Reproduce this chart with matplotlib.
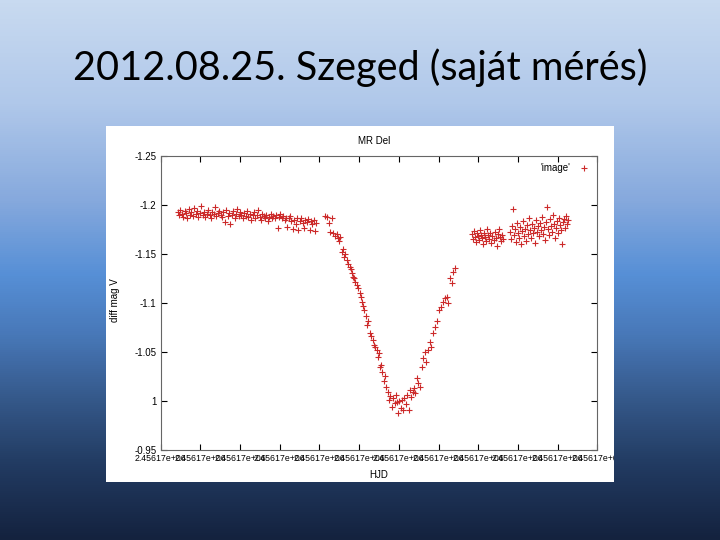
""" MR Del light curve, Szeged 2012.08.25 (slide recreation) """

import numpy as np
import matplotlib
matplotlib.use('Agg')
import matplotlib.pyplot as plt
import matplotlib.colors as clr
from matplotlib.patches import Rectangle


# -------------------------------------------------------------------------------
# 0. DATA
# -------------------------------------------------------------------------------

HJD0 = 2456165.0

# out of eclipse, before minimum
hjd_pre = [0.2685, 0.2692, 0.2699, 0.2706, 0.2713, 0.2720, 0.2727, 0.2734, 0.2741, 0.2748,
           0.2755, 0.2762, 0.2769, 0.2776, 0.2783, 0.2790, 0.2797, 0.2804, 0.2811, 0.2818,
           0.2825, 0.2832, 0.2839, 0.2846, 0.2853, 0.2860, 0.2867, 0.2874, 0.2881, 0.2888,
           0.2895, 0.2902, 0.2909, 0.2916, 0.2923, 0.2930, 0.2937, 0.2944, 0.2951, 0.2958,
           0.2965, 0.2972, 0.2979, 0.2986, 0.2993, 0.3000, 0.3007, 0.3014, 0.3021, 0.3028,
           0.3035, 0.3042, 0.3049, 0.3056, 0.3063, 0.3070, 0.3077, 0.3084, 0.3091, 0.3098,
           0.3105, 0.3112, 0.3119, 0.3126, 0.3133, 0.3140, 0.3147, 0.3154, 0.3161, 0.3168,
           0.3175, 0.3182, 0.3189, 0.3196, 0.3203, 0.3210, 0.3217, 0.3224, 0.3231, 0.3238,
           0.3245, 0.3252, 0.3259, 0.3266, 0.3273, 0.3280, 0.3287, 0.3294, 0.3301, 0.3308,
           0.3315, 0.3322, 0.3329, 0.3336, 0.3343, 0.3350, 0.3357, 0.3364, 0.3371, 0.3378,
           0.3385]
mag_pre = [-1.193, -1.190, -1.195, -1.191, -1.188, -1.194, -1.192, -1.187, -1.196, -1.190,
           -1.193, -1.189, -1.197, -1.191, -1.194, -1.188, -1.192, -1.199, -1.190, -1.193,
           -1.188, -1.191, -1.195, -1.190, -1.186, -1.193, -1.191, -1.198, -1.189, -1.192,
           -1.194, -1.190, -1.188, -1.193, -1.182, -1.195, -1.189, -1.192, -1.180, -1.190,
           -1.194, -1.187, -1.191, -1.196, -1.189, -1.193, -1.190, -1.186, -1.192, -1.189,
           -1.194, -1.188, -1.191, -1.184, -1.190, -1.193, -1.187, -1.190, -1.195, -1.188,
           -1.184, -1.191, -1.189, -1.186, -1.190, -1.183, -1.188, -1.191, -1.186, -1.189,
           -1.187, -1.190, -1.176, -1.188, -1.191, -1.186, -1.189, -1.184, -1.187, -1.177,
           -1.186, -1.189, -1.183, -1.175, -1.184, -1.180, -1.186, -1.174, -1.183, -1.186,
           -1.181, -1.176, -1.184, -1.182, -1.185, -1.174, -1.183, -1.180, -1.184, -1.173,
           -1.181]

# eclipse: descending branch, minimum, ascending branch
hjd_ecl = [0.3428, 0.3438, 0.3448, 0.3453, 0.3463, 0.3468, 0.3478, 0.3489, 0.3494, 0.3499,
           0.3504, 0.3514, 0.3519, 0.3524, 0.3529, 0.3539, 0.3544, 0.3554, 0.3559, 0.3564,
           0.3569, 0.3574, 0.3579, 0.3589, 0.3594, 0.3604, 0.3609, 0.3614, 0.3619, 0.3624,
           0.3634, 0.3640, 0.3645, 0.3655, 0.3660, 0.3670, 0.3675, 0.3680, 0.3690, 0.3695,
           0.3700, 0.3705, 0.3710, 0.3715, 0.3725, 0.3730, 0.3735, 0.3745, 0.3750, 0.3756,
           0.3766, 0.3771, 0.3781, 0.3786, 0.3791, 0.3796, 0.3801, 0.3811, 0.3816, 0.3821,
           0.3826, 0.3836, 0.3841, 0.3851, 0.3856, 0.3861, 0.3871, 0.3876, 0.3882, 0.3892,
           0.3897, 0.3907, 0.3917, 0.3922, 0.3932, 0.3937, 0.3947, 0.3957, 0.3962, 0.3972,
           0.3982, 0.3992, 0.4002, 0.4013, 0.4023, 0.4033, 0.4043, 0.4048, 0.4058, 0.4068,
           0.4073, 0.4083]
mag_ecl = [-1.189, -1.188, -1.181, -1.172, -1.186, -1.171, -1.168, -1.170, -1.166, -1.163,
           -1.167, -1.152, -1.155, -1.147, -1.150, -1.144, -1.140, -1.137, -1.134, -1.130,
           -1.126, -1.125, -1.121, -1.118, -1.115, -1.110, -1.106, -1.101, -1.097, -1.093,
           -1.087, -1.077, -1.082, -1.069, -1.066, -1.062, -1.057, -1.055, -1.052, -1.045,
           -1.049, -1.035, -1.037, -1.030, -1.020, -1.025, -1.014, -1.009, -1.001, -1.005,
           -0.994, -1.003, -0.998, -1.006, -0.999, -0.988, -1.000, -0.993, -1.001, -0.991,
           -1.003, -0.997, -1.006, -0.991, -1.011, -1.004, -1.009, -1.013, -1.008, -1.023,
           -1.018, -1.014, -1.035, -1.044, -1.050, -1.040, -1.052, -1.060, -1.055, -1.069,
           -1.075, -1.082, -1.093, -1.096, -1.101, -1.105, -1.106, -1.100, -1.125, -1.120,
           -1.131, -1.136]

# out of eclipse, after minimum
hjd_post = [0.4169, 0.4174, 0.4179, 0.4184, 0.4189, 0.4194, 0.4199, 0.4204, 0.4209, 0.4214,
            0.4219, 0.4224, 0.4229, 0.4234, 0.4239, 0.4244, 0.4250, 0.4255, 0.4260, 0.4265,
            0.4270, 0.4280, 0.4285, 0.4290, 0.4295, 0.4300, 0.4305, 0.4310, 0.4315, 0.4320,
            0.4325,
            0.4360, 0.4365, 0.4370, 0.4375, 0.4381, 0.4386, 0.4391, 0.4396, 0.4401, 0.4406,
            0.4411, 0.4416, 0.4421, 0.4426, 0.4431, 0.4436, 0.4441, 0.4446, 0.4451, 0.4456,
            0.4461, 0.4466, 0.4471, 0.4476, 0.4481, 0.4486, 0.4491, 0.4496, 0.4502, 0.4507,
            0.4512, 0.4517, 0.4522, 0.4527, 0.4532, 0.4537, 0.4542, 0.4547, 0.4552, 0.4557,
            0.4562, 0.4567, 0.4572, 0.4577, 0.4582, 0.4587, 0.4592, 0.4597, 0.4602, 0.4607,
            0.4612, 0.4617, 0.4623, 0.4628, 0.4633, 0.4638, 0.4643, 0.4648, 0.4653]
mag_post = [-1.170, -1.165, -1.173, -1.167, -1.162, -1.171, -1.168, -1.164, -1.174, -1.169,
            -1.166, -1.160, -1.171, -1.167, -1.163, -1.175, -1.169, -1.165, -1.171, -1.161,
            -1.168, -1.164, -1.172, -1.166, -1.158, -1.170, -1.175, -1.167, -1.163, -1.169,
            -1.165,
            -1.172, -1.165, -1.178, -1.196, -1.169, -1.175, -1.162, -1.181, -1.171, -1.166,
            -1.177, -1.160, -1.173, -1.183, -1.168, -1.175, -1.163, -1.179, -1.170, -1.186,
            -1.174, -1.166, -1.180, -1.171, -1.176, -1.161, -1.184, -1.172, -1.178, -1.168,
            -1.181, -1.174, -1.188, -1.170, -1.177, -1.164, -1.182, -1.198, -1.175, -1.169,
            -1.185, -1.178, -1.172, -1.190, -1.180, -1.166, -1.176, -1.183, -1.171, -1.187,
            -1.179, -1.174, -1.160, -1.182, -1.185, -1.176, -1.189, -1.180, -1.184]

# axis ticks
xticks_frac = [0.26, 0.28, 0.30, 0.32, 0.34, 0.36, 0.38, 0.40, 0.42, 0.44, 0.46, 0.48]
xtick_label = '2.45617e+06'
yticks = [-1.25, -1.2, -1.15, -1.1, -1.05, -1.0, -0.95]
ytick_labels = ['-1.25', '-1.2', '-1.15', '-1.1', '-1.05', '1', '-0.95']

slide_title = '2012.08.25. Szeged (saját mérés)'


# -------------------------------------------------------------------------------
# 1. SLIDE BACKGROUND
# -------------------------------------------------------------------------------

fig = plt.figure(figsize=(7.2, 5.4), dpi=100)

bg = fig.add_axes([0, 0, 1, 1])
bg.set_axis_off()
grad_cmap = clr.LinearSegmentedColormap.from_list('slide', [
    (0.00, '#c8daf0'), (0.19, '#b0c8ea'), (0.37, '#86a9dd'), (0.51, '#568fd6'),
    (0.62, '#4878b8'), (0.74, '#35598a'), (0.86, '#223b62'), (1.00, '#14223e')])
bg.imshow(np.linspace(0, 1, 540).reshape(-1, 1), aspect='auto', cmap=grad_cmap,
          extent=[0, 1, 0, 1])
bg.set_xlim(0, 1)
bg.set_ylim(0, 1)

fig.text(0.5, 1 - 80 / 540, slide_title, ha='center', va='baseline', fontsize=28.5,
         family='Lato', color='black')

# white picture box
box = Rectangle((106 / 720, 1 - 482 / 540), 508 / 720, 356 / 540, transform=fig.transFigure,
                facecolor='white', edgecolor='none', zorder=1)
fig.patches.append(box)


# -------------------------------------------------------------------------------
# 2. THE GNUPLOT CHART
# -------------------------------------------------------------------------------

ax = fig.add_axes([160.7 / 720, 1 - 450 / 540, 436.6 / 720, 294.3 / 540], zorder=2)
ax.patch.set_alpha(0)

hjd = HJD0 + np.array(hjd_pre + hjd_ecl + hjd_post)
mag = np.array(mag_pre + mag_ecl + mag_post)
ax.plot(hjd, mag, linestyle='none', marker='+', ms=4.5, mew=0.8, color='#cc2a2a',
        label="'image'")

ax.set_xlim(HJD0 + 0.26, HJD0 + 0.48)
ax.set_ylim(-0.95, -1.25)

ax.set_xticks([HJD0 + f for f in xticks_frac])
ax.set_xticklabels([xtick_label] * len(xticks_frac), family='Liberation Sans', fontsize=6.3)
ax.set_yticks(yticks)
ax.set_yticklabels(ytick_labels, family='Liberation Sans', fontsize=7)
ax.tick_params(direction='in', length=4, width=0.8, top=True, right=True, pad=3)

for s in ax.spines.values():
    s.set_color('#666666')
    s.set_linewidth(0.8)

# last x tick label is cut by the picture edge
for lab in ax.get_xticklabels():
    lab.set_clip_path(box)

fig.text(374 / 720, 1 - 141 / 540, 'MR Del', ha='center', va='center', fontsize=7,
         family='Liberation Sans', zorder=3)
fig.text(115 / 720, 1 - 300 / 540, 'diff mag V', ha='center', va='center', fontsize=7,
         family='Liberation Sans', rotation=90, zorder=3)
fig.text(379 / 720, 1 - 475 / 540, 'HJD', ha='center', va='center', fontsize=7,
         family='Liberation Sans', zorder=3)

ax.legend(loc='upper right', markerfirst=False, frameon=False, handlelength=1.2,
          handletextpad=0.8, borderaxespad=0.4, prop={'family': 'Liberation Sans', 'size': 7})

fig.savefig('out.png', dpi=100)
